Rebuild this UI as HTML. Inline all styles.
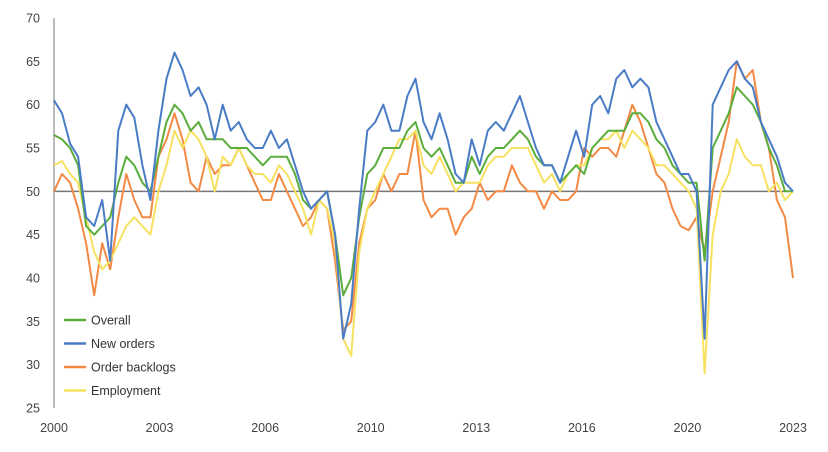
<!DOCTYPE html>
<html><head><meta charset="utf-8"><style>
body{margin:0;background:#fff;}
svg{display:block;font-family:"Liberation Sans",sans-serif;}
</style></head><body>
<svg id="chart" width="828" height="452">
<g id="axes"></g><g id="series"></g><g id="legend"></g>
</svg>
<script>
const yearLabels = [2000,2003,2006,2010,2013,2016,2020,2023];
const yTicks = [25,30,35,40,45,50,55,60,65,70];
const seriesNames = ["Overall","New orders","Order backlogs","Employment"];
const overall = [56.5,56,55,53, 46,45,46,47, 51,54,53,51, 50,54,58,60, 59,57,58,56, 56,56,55,55, 55,54,53,54, 54,54,52,49, 48,49,50,45, 38,40,47,52, 53,55,55,55, 57,58,55,54, 55,53,51,51, 54,52,54,55, 55,56,57,56, 54,53,53,51, 52,53,52,55, 56,57,57,57, 59,59,58,56, 55,53,52,51, 51,42,55,57, 59,62,61,60, 58,55,53,50, 50];
const newOrders = [60.5,59,55.5,54, 47,46,49,42, 57,60,58.5,53, 49,57,63,66, 64,61,62,60, 56,60,57,58, 56,55,55,57, 55,56,53,50, 48,49,50,45, 33,37,48,57, 58,60,57,57, 61,63,58,56, 59,56,52,51, 56,53,57,58, 57,59,61,58, 55,53,53,51, 54,57,54,60, 61,59,63,64, 62,63,62,58, 56,54,52,52, 50,33,60,62, 64,65,63,62, 58,56,54,51, 50];
const backlogs = [50,52,51,48, 44,38,44,41, 47,52,49,47, 47,54,56,59, 56,51,50,54, 52,53,53,55, 53,51,49,49, 52,50,48,46, 47,49,48,42, 34,35,44,48, 49,52,50,52, 52,57,49,47, 48,48,45,47, 48,51,49,50, 50,53,51,50, 50,48,50,49, 49,50,55,54, 55,55,54,57, 60,58,55,52, 51,48,46,45.5, 47,43,50,54, 58,65,63,64, 58,55,49,47, 40];
const employment = [53,53.5,52,51, 47,43,41,42, 44,46,47,46, 45,50,53,57, 55,57,56,54, 50,54,53,55, 53,52,52,51, 53,52,50,48, 45,49,48,44, 33,31,43,48, 50,52,54,56, 56,57,53,52, 54,52,50,51, 51,51,53,54, 54,55,55,55, 53,51,52,50, 52,53,53,55, 56,56,57,55, 57,56,55,53, 53,52,51,50, 48,29,45,50, 52,56,54,53, 53,50,51,49, 50];
const colors = ["#5aad3c","#4a7cc6","#f28a45","#f7e160"];
const NS="http://www.w3.org/2000/svg";
const X0=54,X1=793,Y25=408,Y70=18;
function xs(t){return X0+(t-2000)/23*(X1-X0);}
function ys(v){return Y25-(v-25)/45*(Y25-Y70);}
function mk(tag,attrs,parent){const e=document.createElementNS(NS,tag);for(const k in attrs)e.setAttribute(k,attrs[k]);parent.appendChild(e);return e;}
const axes=document.getElementById('axes');
yTicks.forEach(v=>{
  const t=mk('text',{x:40,y:ys(v)+4.5,'text-anchor':'end','font-size':12.5,fill:'#444'},axes);
  t.textContent=v;
  
  
});
yearLabels.forEach((yr,i)=>{
  const px=X0+i*(X1-X0)/(yearLabels.length-1);
  const t=mk('text',{x:px,y:432,'text-anchor':'middle','font-size':12.5,fill:'#444'},axes);
  t.textContent=yr;
  
  
});
const ax=mk('line',{x1:X0,y1:Y70,x2:X0,y2:Y25,stroke:'#bbb','stroke-width':2},axes);


const ref=mk('line',{x1:X0,y1:ys(50),x2:X1,y2:ys(50),stroke:'#777','stroke-width':1.5},axes);


const data=[backlogs,employment,overall,newOrders];
const idx=[2,3,0,1];
const sg=document.getElementById('series');
data.forEach((arr,i)=>{
  const pts=arr.map((v,j)=>xs(2000+j/4).toFixed(1)+','+ys(v).toFixed(1)).join(' ');
  const p=mk('polyline',{points:pts,fill:'none',stroke:colors[idx[i]],'stroke-width':2,'stroke-linejoin':'round'},sg);
  
  
});
const lg=document.getElementById('legend');
seriesNames.forEach((n,i)=>{
  const y=320+i*23.5;
  const g=mk('g',{},lg);
  
  
  mk('line',{x1:64,y1:y,x2:86,y2:y,stroke:colors[i],'stroke-width':2.5},g);
  const t=mk('text',{x:91,y:y+4.5,'font-size':12.5,fill:'#333'},g);
  t.textContent=n;
});
</script>
</body></html>
